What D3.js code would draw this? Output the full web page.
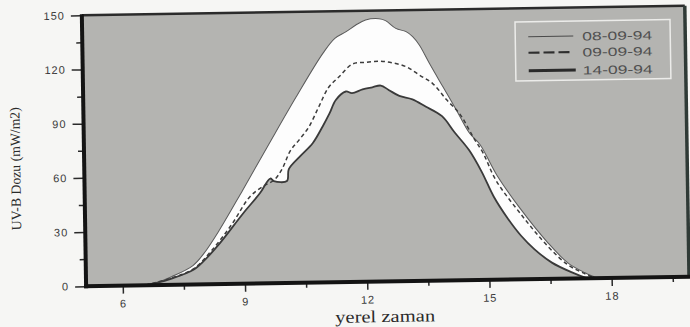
<!DOCTYPE html>
<html>
<head>
<meta charset="utf-8">
<script src="https://cdn.jsdelivr.net/npm/d3@7"></script>
<style>
  body { margin: 0; background: #f6f6f4; }
  svg { display: block; }
</style>
</head>
<body>
<script>
// series names (legend)
const seriesNames = ["08-09-94", "09-09-94", "14-09-94"];

// 08-09-94 (thin solid, upper edge of the white band)
const hours0809 = [6.55, 6.85, 7.2, 7.73, 8.0, 8.39, 8.98, 9.65, 10.33, 11.0, 11.3, 11.58, 11.82, 12.06, 12.39, 12.55, 12.8, 13.05, 13.21, 13.37, 13.61, 13.93, 14.25, 14.57, 14.82, 15.22, 15.79, 16.45, 16.94, 17.35, 17.65];
const uvb0809   = [0, 1.5, 4.5, 10.5, 17, 29.8, 51.8, 77.4, 103, 126.8, 135, 138.6, 142.2, 144.9, 145.5, 144.4, 140, 138.1, 135.3, 130.6, 120.4, 107.4, 94.5, 81.3, 75, 58, 39, 20, 8.6, 3.1, 0];

// 09-09-94 (dashed)
const hours0909 = [6.55, 7.2, 7.73, 8.2, 8.7, 9.15, 9.5, 9.75, 9.95, 10.17, 10.38, 10.63, 10.88, 11.13, 11.39, 11.72, 12.05, 12.4, 12.7, 13.04, 13.36, 13.69, 14.02, 14.34, 14.66, 14.9, 15.2, 15.8, 16.45, 16.94, 17.35, 17.6];
const uvb0909   = [0, 3.8, 8.5, 18.8, 33, 48, 54, 57, 63, 73.4, 79, 86.3, 97.3, 108, 113.7, 120.6, 121.5, 122, 121, 118.7, 114, 109, 100, 92, 79, 70, 55, 36, 18, 7.5, 2.5, 0];

// 14-09-94 (thick solid, lower edge of the white band)
const hours1409 = [6.55, 6.85, 7.2, 7.73, 8.0, 8.39, 8.98, 9.4, 9.66, 9.75, 10.07, 10.12, 10.4, 10.72, 10.97, 11.14, 11.3, 11.55, 11.7, 11.96, 12.2, 12.41, 12.6, 12.86, 13.18, 13.5, 13.9, 14.2, 14.55, 14.85, 15.14, 15.47, 15.8, 16.12, 16.54, 17.03, 17.4];
const uvb1409   = [0, 1.3, 3.5, 8, 13, 22.4, 38.9, 49.9, 58, 56.5, 56.5, 63, 70, 77.3, 86.5, 93.5, 100.9, 105.5, 104.5, 106.5, 107.6, 108.5, 106, 102.6, 100.6, 96.5, 91, 82, 72, 60, 46, 34, 24, 16.5, 9, 3.4, 0];

// axis ticks
const xTicks = [6, 9, 12, 15, 18];
const xMinor = [7.5, 10.5, 13.5, 16.5, 19.5];
const yTicks = [0, 30, 60, 90, 120, 150];
const yMinor = [15, 45, 75, 105, 135];

const width = 690, height = 327;
const plot = { left: 84, right: 687, top: 10.5, bottom: 281.5 };

const svg = d3.select("body").append("svg")
  .attr("width", width)
  .attr("height", height);

// the scan is a little tilted
const root = svg.append("g").attr("transform", "rotate(-0.9,385,150)");

const x = d3.scaleLinear().domain([5.1, 19.9]).range([plot.left, plot.right]);
const y = d3.scaleLinear().domain([0, 150]).range([plot.bottom, plot.top]);

const toPoints = (hs, vs) => hs.map((h, i) => ({ h: h, v: vs[i] }));
const d0809 = toPoints(hours0809, uvb0809);
const d0909 = toPoints(hours0909, uvb0909);
const d1409 = toPoints(hours1409, uvb1409);

const line = d3.line()
  .x(d => x(d.h))
  .y(d => y(d.v))
  .curve(d3.curveCatmullRom.alpha(0.5));

// grey plot area
root.append("rect")
  .attr("x", plot.left).attr("y", plot.top)
  .attr("width", plot.right - plot.left)
  .attr("height", plot.bottom - plot.top)
  .attr("fill", "#b4b4b1");

// white band between the highest and lowest day
const band = d0809.concat(d1409.slice().reverse());
root.append("path")
  .attr("d", line(band) + "Z")
  .attr("fill", "#fdfdfd");

root.append("path")
  .attr("d", line(d0809))
  .attr("fill", "none")
  .attr("stroke", "#5a5a5a")
  .attr("stroke-width", 1);

root.append("path")
  .attr("d", line(d0909))
  .attr("fill", "none")
  .attr("stroke", "#3c3c3c")
  .attr("stroke-width", 1.5)
  .attr("stroke-dasharray", "4,3");

root.append("path")
  .attr("d", line(d1409))
  .attr("fill", "none")
  .attr("stroke", "#3a3a3a")
  .attr("stroke-width", 1.8);

// legend
const legend = root.append("g").attr("transform", "translate(517,24)");
legend.append("rect")
  .attr("width", 155).attr("height", 59)
  .attr("fill", "none")
  .attr("stroke", "#ececea")
  .attr("stroke-width", 1.5);

const legendStyles = [
  { w: 1, dash: null, c: "#4a4a4a" },
  { w: 2.2, dash: "11,4", c: "#2e2e2e" },
  { w: 2.8, dash: null, c: "#2a2a2a" }
];
const legendRows = [15, 31, 49];

seriesNames.forEach((name, i) => {
  const st = legendStyles[i];
  legend.append("line")
    .attr("x1", 13).attr("x2", i === 2 ? 60 : 58)
    .attr("y1", legendRows[i]).attr("y2", legendRows[i])
    .attr("stroke", st.c)
    .attr("stroke-width", st.w)
    .attr("stroke-dasharray", st.dash);
  legend.append("text")
    .attr("x", 67).attr("y", legendRows[i] + 4.5)
    .attr("font-family", "Liberation Sans, Arial, sans-serif")
    .attr("font-size", 12)
    .attr("fill", "#505050")
    .attr("textLength", 70)
    .attr("lengthAdjust", "spacingAndGlyphs")
    .text(name);
});

// axes
const fontSans = "Liberation Sans, Arial, sans-serif";

const xAxis = root.append("g")
  .attr("transform", `translate(0,${plot.bottom})`)
  .call(d3.axisBottom(x).tickValues(xTicks).tickSize(8).tickPadding(6).tickFormat(d3.format("d")));
root.append("g")
  .attr("transform", `translate(0,${plot.bottom})`)
  .call(d3.axisBottom(x).tickValues(xMinor).tickSize(5).tickFormat(""));

const yAxis = root.append("g")
  .attr("transform", `translate(${plot.left},0)`)
  .call(d3.axisLeft(y).tickValues(yTicks).tickSize(11).tickPadding(6).tickFormat(d3.format("d")));
root.append("g")
  .attr("transform", `translate(${plot.left},0)`)
  .call(d3.axisLeft(y).tickValues(yMinor).tickSize(6).tickFormat(""));

root.selectAll(".domain").remove();
root.selectAll(".tick line").attr("stroke", "#2a2a2a").attr("stroke-width", 1.5);
root.selectAll(".tick text")
  .attr("font-family", fontSans)
  .attr("font-size", 11)
  .attr("fill", "#3a3a3a")
  .attr("letter-spacing", 1);

// frame: heavy left/bottom, lighter top, dark right
root.append("line")
  .attr("x1", plot.left).attr("x2", plot.right)
  .attr("y1", plot.top).attr("y2", plot.top)
  .attr("stroke", "#2b2b2b").attr("stroke-width", 2.5);
root.append("line")
  .attr("x1", plot.right).attr("x2", plot.right)
  .attr("y1", plot.top).attr("y2", plot.bottom)
  .attr("stroke", "#2f3a36").attr("stroke-width", 3.5);
root.append("line")
  .attr("x1", plot.left).attr("x2", plot.left)
  .attr("y1", plot.top - 1).attr("y2", plot.bottom + 2)
  .attr("stroke", "#141414").attr("stroke-width", 4);
root.append("line")
  .attr("x1", plot.left - 2).attr("x2", plot.right + 1)
  .attr("y1", plot.bottom).attr("y2", plot.bottom)
  .attr("stroke", "#141414").attr("stroke-width", 4);

// axis titles
const fontSerif = "Liberation Serif, Times New Roman, serif";
root.append("text")
  .attr("x", (x(12) + x(13)) / 2 - 3)
  .attr("y", 322)
  .attr("text-anchor", "middle")
  .attr("font-family", fontSerif)
  .attr("font-size", 17)
  .attr("fill", "#2a2a2a")
  .attr("textLength", 100)
  .attr("lengthAdjust", "spacingAndGlyphs")
  .text("yerel zaman");

root.append("text")
  .attr("transform", "translate(20,163) rotate(-90)")
  .attr("text-anchor", "middle")
  .attr("font-family", fontSerif)
  .attr("font-size", 14)
  .attr("fill", "#2a2a2a")
  .attr("textLength", 123)
  .attr("lengthAdjust", "spacingAndGlyphs")
  .text("UV-B Dozu (mW/m2)");
</script>
</body>
</html>
